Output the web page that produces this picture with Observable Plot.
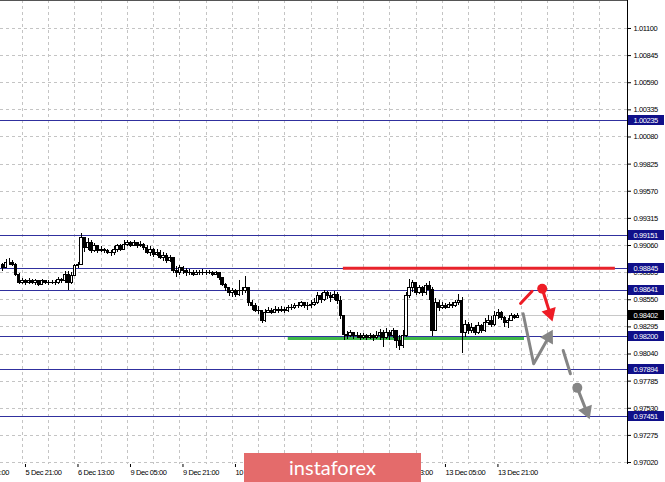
<!DOCTYPE html>
<html><head><meta charset="utf-8">
<script src="https://cdn.jsdelivr.net/npm/d3@7"></script>
<script src="https://cdn.jsdelivr.net/npm/@observablehq/plot@0.6"></script>
<style>
body{margin:0;background:#fff;}
#wrap{position:relative;width:665px;height:482px;overflow:hidden;background:#fff;}
#wrap svg{position:absolute;left:0;top:0;}
#wrap svg text{letter-spacing:-0.4px;}
#logo{position:absolute;left:244px;top:453px;width:177px;height:29px;background:#e46b6b;color:#fff;font:400 20px Lato,"Open Sans",sans-serif;text-align:center;line-height:28px;z-index:2;}
</style></head><body><div id="wrap"><div id="logo">instaforex</div></div>
<script>
// ---- data (H1 candles, index 0 = "5 Dec 21:00") ----
const firstIndex = -6;
const firstOpen = 0.98881;
const close = [0.98844,0.98900,0.98900,0.98881,0.98787,0.98712,
0.98722,0.98703,0.98731,0.98712,0.98722,0.98693,0.98722,0.98712,0.98703,0.98712,
0.98703,0.98740,0.98722,0.98787,0.98703,0.98778,0.98863,0.98881,0.99126,0.99041,
0.99088,0.99013,0.99051,0.99013,0.99022,0.99004,0.98994,0.98985,0.99022,0.99051,
0.99022,0.99069,0.99079,0.99060,0.99079,0.99051,0.99069,0.99032,0.98994,0.99022,
0.98975,0.98994,0.98947,0.98966,0.98919,0.98938,0.98825,0.98806,0.98844,0.98825,
0.98797,0.98806,0.98787,0.98806,0.98797,0.98806,0.98797,0.98806,0.98787,0.98797,
0.98750,0.98693,0.98656,0.98609,0.98628,0.98599,0.98637,0.98628,0.98656,0.98515,
0.98487,0.98449,0.98440,0.98355,0.98430,0.98449,0.98430,0.98458,0.98440,0.98458,
0.98440,0.98468,0.98477,0.98496,0.98487,0.98515,0.98496,0.98487,0.98505,0.98524,
0.98581,0.98552,0.98609,0.98590,0.98562,0.98599,0.98543,0.98393,0.98223,0.98205,
0.98233,0.98205,0.98214,0.98195,0.98205,0.98186,0.98205,0.98195,0.98214,0.98242,
0.98195,0.98233,0.98205,0.98252,0.98167,0.98120,0.98214,0.98581,0.98665,0.98703,
0.98618,0.98656,0.98609,0.98675,0.98646,0.98261,0.98515,0.98468,0.98496,0.98477,
0.98505,0.98487,0.98515,0.98543,0.98233,0.98317,0.98252,0.98289,0.98242,0.98299,
0.98261,0.98336,0.98355,0.98317,0.98393,0.98430,0.98374,0.98336,0.98355,0.98393,
0.98383,0.98402];
const high = [0.98891,0.98928,0.98938,0.98919,0.98891,0.98797,
0.98750,0.98740,0.98750,0.98740,0.98740,0.98731,0.98740,0.98731,0.98731,0.98731,
0.98731,0.98759,0.98750,0.98816,0.98816,0.98806,0.98881,0.98900,0.99173,0.99126,
0.99126,0.99107,0.99079,0.99060,0.99051,0.99032,0.99022,0.99013,0.99051,0.99069,
0.99069,0.99107,0.99107,0.99098,0.99107,0.99088,0.99098,0.99079,0.99060,0.99051,
0.99032,0.99022,0.99013,0.98994,0.98985,0.98966,0.98947,0.98863,0.98872,0.98863,
0.98844,0.98834,0.98825,0.98825,0.98825,0.98834,0.98825,0.98825,0.98816,0.98816,
0.98797,0.98759,0.98703,0.98665,0.98656,0.98646,0.98731,0.98665,0.98769,0.98665,
0.98543,0.98515,0.98487,0.98449,0.98458,0.98477,0.98468,0.98487,0.98477,0.98487,
0.98477,0.98496,0.98505,0.98515,0.98524,0.98534,0.98524,0.98524,0.98543,0.98562,
0.98618,0.98609,0.98637,0.98628,0.98618,0.98628,0.98618,0.98581,0.98402,0.98252,
0.98261,0.98242,0.98242,0.98233,0.98233,0.98223,0.98233,0.98223,0.98252,0.98270,
0.98261,0.98280,0.98261,0.98280,0.98261,0.98214,0.98261,0.98618,0.98740,0.98731,
0.98703,0.98684,0.98675,0.98703,0.98722,0.98665,0.98562,0.98543,0.98524,0.98515,
0.98524,0.98524,0.98543,0.98599,0.98571,0.98355,0.98336,0.98327,0.98308,0.98336,
0.98317,0.98374,0.98402,0.98393,0.98440,0.98458,0.98440,0.98393,0.98374,0.98421,
0.98411,0.98421];
const low = [0.98816,0.98844,0.98872,0.98863,0.98769,0.98693,
0.98693,0.98684,0.98693,0.98693,0.98684,0.98675,0.98693,0.98693,0.98684,0.98693,
0.98684,0.98693,0.98703,0.98703,0.98637,0.98693,0.98769,0.98844,0.98872,0.98994,
0.99013,0.98985,0.98994,0.98985,0.98994,0.98985,0.98975,0.98957,0.98966,0.98994,
0.99004,0.99013,0.99051,0.99041,0.99051,0.99032,0.99041,0.99013,0.98975,0.98957,
0.98947,0.98957,0.98928,0.98910,0.98891,0.98900,0.98797,0.98759,0.98778,0.98787,
0.98769,0.98778,0.98769,0.98778,0.98778,0.98778,0.98778,0.98787,0.98769,0.98778,
0.98731,0.98675,0.98628,0.98581,0.98571,0.98571,0.98581,0.98590,0.98609,0.98487,
0.98449,0.98430,0.98411,0.98327,0.98336,0.98421,0.98411,0.98430,0.98421,0.98430,
0.98421,0.98430,0.98449,0.98458,0.98468,0.98477,0.98468,0.98449,0.98468,0.98487,
0.98505,0.98515,0.98534,0.98552,0.98524,0.98543,0.98505,0.98364,0.98167,0.98176,
0.98195,0.98176,0.98186,0.98167,0.98176,0.98167,0.98176,0.98158,0.98176,0.98167,
0.98101,0.98176,0.98167,0.98186,0.98092,0.98073,0.98092,0.98195,0.98562,0.98618,
0.98590,0.98599,0.98581,0.98590,0.98543,0.98205,0.98252,0.98440,0.98458,0.98458,
0.98468,0.98468,0.98477,0.98496,0.98045,0.98195,0.98223,0.98233,0.98214,0.98223,
0.98233,0.98242,0.98308,0.98289,0.98299,0.98364,0.98355,0.98289,0.98280,0.98346,
0.98364,0.98383];

const yTicks = [1.01100,1.00845,1.00590,1.00335,1.00080,0.99825,0.99570,0.99315,0.99060,0.98805,0.98550,0.98295,0.98040,0.97785,0.97530,0.97275,0.97020];
// time-axis labels; the two fully covered by the logo are left blank
const xTickIndex = [-16,0,16,32,48,64,80,96,112,128,144];
const xTickLabels = ["5 Dec 05:00","5 Dec 21:00","6 Dec 13:00","9 Dec 05:00","9 Dec 21:00","10 Dec 13:00","","","12 Dec 13:00","13 Dec 05:00","13 Dec 21:00"];
const xGridIndex = [-8,0,8,16,24,32,40,48,56,64,72,80,88,96,104,112,120,128,136,144,152,160,168,176];

const levels = [1.00235,0.99151,0.98845,0.98641,0.98200,0.97894,0.97451];
const currentPrice = 0.98402;
const resistance = {v:0.98845, from:97.8, to:180.7};
const support = {v:0.98186, from:81, to:153};

// forecast drawing (index, price)
const redLine = [[151.8,0.98515],[155.3,0.98630]];
const redDot = [158.4,0.98653];
const redTip = [161.4,0.98360];
const grayPath = [[152.6,0.98418],[155.8,0.97948]];
const grayTip = [161.4,0.98255];
const graySeg = [[164.8,0.98073],[167.0,0.97854]];
const grayDot = [169.1,0.97722];
const grayTip2 = [172.7,0.97440];

// ---- layout ----
const W = 665, H = 482, MR = 38, MB = 18;
const X_MIN = -6.705, X_MAX = 184.4;
const Y_MIN = 0.970014, Y_MAX = 1.01363;
const kx = (W - MR) / (X_MAX - X_MIN);
const ky = (H - MB) / (Y_MAX - Y_MIN);

const candles = close.map((c, k) => ({i: firstIndex + k, o: k ? close[k-1] : firstOpen, c, h: high[k], l: low[k]}));
const labelMap = new Map(xTickIndex.map((d, k) => [d, xTickLabels[k]]));
const fmt = d3.format(".5f");

function head(from, to, len) {
  const px = (to[0]-from[0])*kx, py = -(to[1]-from[1])*ky;
  const n = Math.hypot(px, py), ux = px/n, uy = py/n;
  return {i: to[0] - ux*len/kx, v: to[1] + uy*len/ky, a: Math.atan2(ux, -uy)*180/Math.PI};
}
const hRed = head(redDot, redTip, 7);
const hGray = head(grayPath[1], grayTip, 7);
const hGray2 = head(grayDot, grayTip2, 7);

const boxes = levels.map(v => ({v, bg: "#10108a"})).concat([{v: currentPrice, bg: "#000"}]);
const bh = 5 / ky;

const arrowRed = "#ee1c25", arrowGray = "#858585";
const crisp = {shapeRendering: "crispEdges"};

const chart = Plot.plot({
  width: W, height: H,
  marginLeft: 0, marginRight: MR, marginTop: 0, marginBottom: MB,
  x: {domain: [X_MIN, X_MAX]},
  y: {domain: [Y_MIN, Y_MAX]},
  style: {fontFamily: "'Liberation Sans',Arial,sans-serif", fontSize: "7.5px", background: "transparent", overflow: "visible", color: "#000"},
  marks: [
    Plot.gridY(yTicks, {stroke: "#c4c4c4", strokeOpacity: 1, strokeDasharray: "3,3", ...crisp}),
    Plot.gridX(xGridIndex, {stroke: "#c4c4c4", strokeOpacity: 1, strokeDasharray: "3,3", ...crisp}),
    Plot.ruleY([currentPrice], {stroke: "#c8c8c8", ...crisp}),
    Plot.ruleY(levels, {stroke: "#30309e", ...crisp}),
    Plot.ruleY([resistance], {y: "v", x1: "from", x2: "to", stroke: "#e8232b", strokeWidth: 3}),
    Plot.ruleY([support], {y: "v", x1: "from", x2: "to", stroke: "#3fb84b", strokeWidth: 3}),
    Plot.ruleX(candles, {x: "i", y1: "l", y2: "h", stroke: "#000", strokeWidth: 1, ...crisp}),
    Plot.rect(candles, {x1: d => d.i - 0.36, x2: d => d.i + 0.36, y1: "o", y2: "c", fill: d => d.c >= d.o ? "#fff" : "#000", stroke: "#000", strokeWidth: 1, ...crisp}),
    // forecast arrows
    Plot.line(redLine, {x: d => d[0], y: d => d[1], stroke: arrowRed, strokeWidth: 3}),
    Plot.line([redDot, [hRed.i, hRed.v]], {x: d => d[0], y: d => d[1], stroke: arrowRed, strokeWidth: 3}),
    Plot.dot([redDot], {x: d => d[0], y: d => d[1], r: 5, fill: arrowRed}),
    Plot.dot([hRed], {x: "i", y: "v", symbol: "triangle", r: 5.5, fill: arrowRed, rotate: "a"}),
    Plot.line([...grayPath, [hGray.i, hGray.v]], {x: d => d[0], y: d => d[1], stroke: arrowGray, strokeWidth: 3}),
    Plot.dot([hGray], {x: "i", y: "v", symbol: "triangle", r: 5.5, fill: arrowGray, rotate: "a"}),
    Plot.line(graySeg, {x: d => d[0], y: d => d[1], stroke: arrowGray, strokeWidth: 3}),
    Plot.line([grayDot, [hGray2.i, hGray2.v]], {x: d => d[0], y: d => d[1], stroke: arrowGray, strokeWidth: 3}),
    Plot.dot([grayDot], {x: d => d[0], y: d => d[1], r: 5, fill: arrowGray}),
    Plot.dot([hGray2], {x: "i", y: "v", symbol: "triangle", r: 5.5, fill: arrowGray, rotate: "a"}),
    // frame
    Plot.ruleX([X_MAX], {stroke: "#000", ...crisp}),
    Plot.ruleY([Y_MAX], {stroke: "#555", ...crisp}),
    // axes
    Plot.axisY(yTicks, {anchor: "right", tickSize: 3, tickPadding: 3, tickFormat: fmt, label: null, fill: "#000"}),
    Plot.axisX(xTickIndex, {anchor: "bottom", tickSize: 3, tickPadding: 2, tickFormat: d => labelMap.get(d), textAnchor: "start", dx: 3, label: null, fill: "#000"}),
    // price boxes
    Plot.rect(boxes, {x1: () => X_MAX + 0.35, x2: () => X_MAX + 11.3, y1: d => d.v - bh, y2: d => d.v + bh, fill: "bg", ...crisp}),
    Plot.text(boxes, {x: () => X_MAX, y: "v", text: d => fmt(d.v), dx: 6, textAnchor: "start", fill: "#fff"})
  ]
});
document.getElementById("wrap").insertBefore(chart, document.getElementById("logo"));
</script>
</body></html>
